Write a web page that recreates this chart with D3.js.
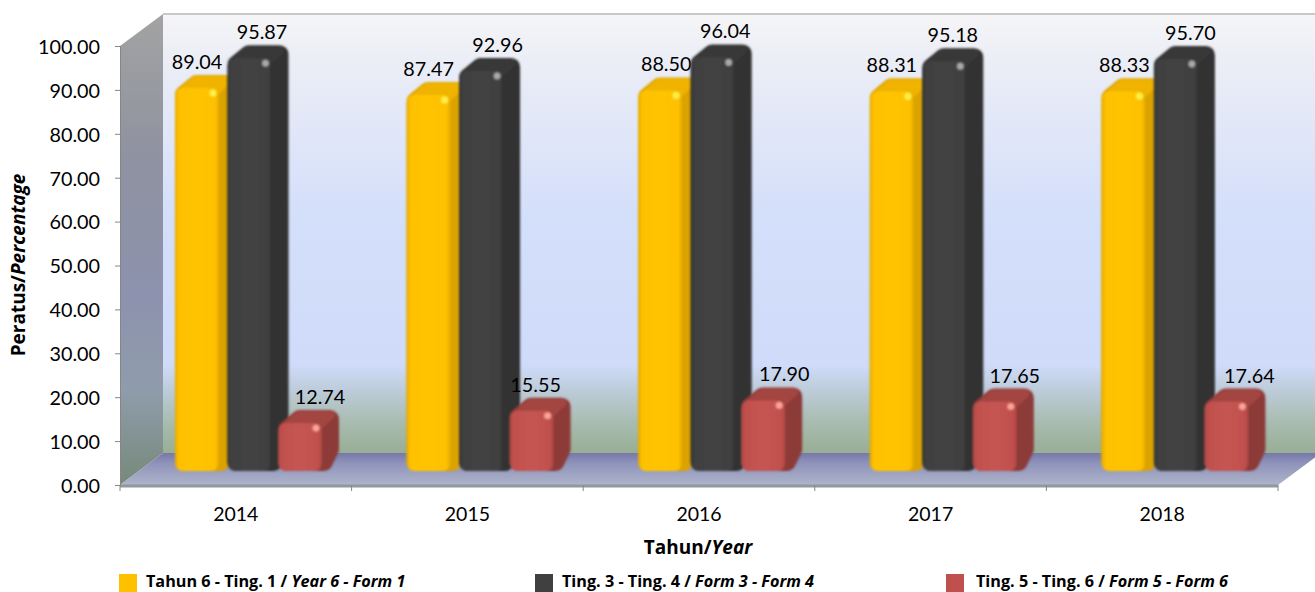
<!DOCTYPE html>
<html>
<head>
  <meta charset="utf-8">
  <title>Peratus</title>
  <script src="https://d3js.org/d3.v7.min.js"></script>
  <style>
    html, body { margin: 0; padding: 0; background: #fff; overflow: hidden; }
    svg { display: block; }
    text { font-family: Lato, "Open Sans", sans-serif; fill: #000; }
    text.bold { font-family: "Open Sans", sans-serif; font-weight: 700; }
  </style>
</head>
<body>
  <script>
    var years = ['2014', '2015', '2016', '2017', '2018'];
    var seriesNames = ['a', 'b', 'c'];
    var year6Form1 = [89.04, 87.47, 88.50, 88.31, 88.33];
    var form3Form4 = [95.87, 92.96, 96.04, 95.18, 95.70];
    var form5Form6 = [12.74, 15.55, 17.90, 17.65, 17.64];
    var yTicks = [0, 10, 20, 30, 40, 50, 60, 70, 80, 90, 100];
    var legendMalay = ['Tahun 6 - Ting. 1 / ', 'Ting. 3 - Ting. 4 / ', 'Ting. 5 - Ting. 6 / '];
    var legendEnglish = ['Year 6 - Form 1', 'Form 3 - Form 4', 'Form 5 - Form 6'];

    var allValues = [year6Form1, form3Form4, form5Form6];

    var width = 1315, height = 592;
    var depthX = 43, depthY = 32;      // wall depth
    var barDepthX = 17, barDepthY = 13;
    var barWidth = 44;
    var colors = [
      { main: '#ffc000', light: '#ffc400', dark: '#e0a900', side: '#dba300', top: '#efb300', spot: '#fff04d' },
      { main: '#404040', light: '#434343', dark: '#333333', side: '#303030', top: '#383838', spot: '#a8a8a8' },
      { main: '#c0504d', light: '#c55552', dark: '#ab4744', side: '#8c3a37', top: '#a34441', spot: '#f8a498' }
    ];
    // the labels were moved by hand in the original
    var labelShift = [
      [-8.5, 4, 11.5],
      [-8.5, 8, -4.5],
      [-2.5, 4, 12.5],
      [-8.5, 0, 11.5],
      [-7.5, 6, 14.5]
    ];

    var x = d3.scaleBand().domain(years).range([120, 1278]);
    var inner = d3.scaleBand().domain(seriesNames).range([55, 209.5]);
    var y = d3.scaleLinear().domain([0, 100]).range([485, 46]);

    var svg = d3.select('body').append('svg')
      .attr('width', width)
      .attr('height', height);

    var defs = svg.append('defs');

    function linear(id, x2, y2, stops) {
      var g = defs.append('linearGradient')
        .attr('id', id)
        .attr('x1', 0).attr('y1', 0)
        .attr('x2', x2).attr('y2', y2);
      stops.forEach(function (s) {
        g.append('stop').attr('offset', s[0]).attr('stop-color', s[1]);
      });
    }

    linear('backWall', 0, 1, [
      [0, '#f5f5f7'], [0.1, '#eceef6'], [0.45, '#d4dffa'], [0.8, '#cfdbf9'],
      [0.86, '#bccbd8'], [0.93, '#a9bcb0'], [1, '#98ae95']
    ]);
    linear('leftWall', 0, 1, [
      [0, '#a3a3a3'], [0.3, '#8f92a0'], [0.6, '#8d92ae'], [0.8, '#8f9cab'], [1, '#77897a']
    ]);
    linear('floor', 0, 1, [
      [0, '#7678a8'], [0.3, '#8e92ba'], [1, '#aeb4ca']
    ]);
    colors.forEach(function (c, i) {
      linear('bar' + i, 1, 0, [
        [0, c.dark], [0.08, c.main], [0.5, c.light], [0.92, c.main], [1, c.dark]
      ]);
    });

    var soft = defs.append('filter').attr('id', 'soft')
      .attr('x', '-20%').attr('y', '-20%').attr('width', '140%').attr('height', '140%');
    soft.append('feGaussianBlur').attr('stdDeviation', 1);
    var spot = defs.append('filter').attr('id', 'spot')
      .attr('x', '-100%').attr('y', '-100%').attr('width', '300%').attr('height', '300%');
    spot.append('feGaussianBlur').attr('stdDeviation', 1.2);

    // walls and floor
    var x0 = x.range()[0], x1 = x.range()[1];
    var floorY = y(0), topY = y(100);

    svg.append('polygon')
      .attr('points', [[x0 + depthX, topY - depthY], [width + 10, topY - depthY], [width + 10, floorY - depthY], [x0 + depthX, floorY - depthY]].join(' '))
      .attr('fill', 'url(#backWall)');
    svg.append('line')
      .attr('x1', x0 + depthX).attr('y1', topY - depthY)
      .attr('x2', width).attr('y2', topY - depthY)
      .attr('stroke', '#c8c8c8').attr('stroke-width', 2);
    svg.append('polygon')
      .attr('points', [[x0, topY], [x0 + depthX, topY - depthY], [x0 + depthX, floorY - depthY], [x0, floorY]].join(' '))
      .attr('fill', 'url(#leftWall)');
    svg.append('polygon')
      .attr('points', [[x0, floorY], [x0 + depthX, floorY - depthY], [x1 + depthX, floorY - depthY], [x1, floorY]].join(' '))
      .attr('fill', 'url(#floor)');
    svg.append('line')
      .attr('x1', x0).attr('y1', floorY + 1)
      .attr('x2', x1).attr('y2', floorY + 1)
      .attr('stroke', '#8f9a9a').attr('stroke-width', 3);

    // axes
    var yAxis = d3.axisLeft(y)
      .tickValues(yTicks)
      .tickSize(5)
      .tickPadding(15)
      .tickFormat(d3.format('.2f'));
    var xAxis = d3.axisBottom(x).tickSize(0).tickPadding(22);

    var yGroup = svg.append('g').attr('transform', 'translate(' + x0 + ',0)').call(yAxis);
    var xGroup = svg.append('g').attr('transform', 'translate(0,' + floorY + ')').call(xAxis);
    yGroup.select('.domain').attr('stroke', '#868686');
    yGroup.selectAll('.tick line').attr('stroke', '#868686');
    xGroup.select('.domain').remove();
    yGroup.selectAll('text').style('font-size', '19.8px').attr('y', 1);
    xGroup.selectAll('text').style('font-size', '19.5px');

    xGroup.selectAll('.edge')
      .data(years.concat(['end']))
      .enter().append('line')
      .attr('class', 'edge')
      .attr('x1', function (d, i) { return x0 + i * x.step(); })
      .attr('x2', function (d, i) { return x0 + i * x.step(); })
      .attr('y1', 0).attr('y2', 6)
      .attr('stroke', '#868686');

    // bars, drawn left to right so each one covers the previous side
    function outline(bx, top, base, inset) {
      return [
        [bx + inset, base - inset],
        [bx + inset, top + inset * 0.7],
        [bx + barDepthX + inset * 0.5, top - barDepthY + inset],
        [bx + barWidth + barDepthX - inset, top - barDepthY + inset],
        [bx + barWidth + barDepthX - inset, base - barDepthY - inset],
        [bx + barWidth + inset * 0.2, base - inset]
      ].join(' ');
    }

    var base = y(0) - 14;

    years.forEach(function (year, yi) {
      var group = svg.append('g').attr('class', 'year')
        .attr('transform', 'translate(' + x(year) + ',0)');

      seriesNames.forEach(function (name, si) {
        var c = colors[si];
        var value = allValues[si][yi];
        var bx = inner(name) + (si === 1 ? 1 : 0);
        var top = y(value) - 6;
        var r = 9;

        var bar = group.append('g').attr('filter', 'url(#soft)');
        // side and top silhouette
        bar.append('polygon')
          .attr('points', outline(bx, top, base, r))
          .attr('fill', c.side)
          .attr('stroke', c.side)
          .attr('stroke-width', r * 2)
          .attr('stroke-linejoin', 'round');
        // top face
        bar.append('polygon')
          .attr('points', [
            [bx + 7, top + 4], [bx + barDepthX + 4, top - barDepthY + 5],
            [bx + barWidth + barDepthX - 8, top - barDepthY + 5], [bx + barWidth - 4, top + 4]
          ].join(' '))
          .attr('fill', c.top)
          .attr('stroke', c.top)
          .attr('stroke-width', 8)
          .attr('stroke-linejoin', 'round');
        // front face
        bar.append('rect')
          .attr('x', bx)
          .attr('y', top)
          .attr('width', barWidth)
          .attr('height', base - top)
          .attr('rx', 8)
          .attr('fill', 'url(#bar' + si + ')');

        group.append('circle')
          .attr('cx', bx + barWidth - 6)
          .attr('cy', top + 5)
          .attr('r', 3.6)
          .attr('fill', c.spot)
          .attr('filter', 'url(#spot)');

        group.append('text')
          .attr('x', bx + barWidth / 2 + barDepthX / 2 + labelShift[yi][si])
          .attr('y', top - barDepthY - 6)
          .attr('text-anchor', 'middle')
          .style('font-size', '19.8px')
          .text(d3.format('.2f')(value));
      });
    });

    // axis titles
    function mixed(sel, plain, italic) {
      sel.append('tspan').text(plain);
      sel.append('tspan').style('font-style', 'italic').text(italic);
    }

    svg.append('text')
      .attr('class', 'bold')
      .attr('transform', 'translate(25,265) rotate(-90)')
      .attr('text-anchor', 'middle')
      .style('font-size', '19px')
      .call(mixed, 'Peratus/', 'Percentage');

    svg.append('text')
      .attr('class', 'bold')
      .attr('x', 698)
      .attr('y', 554)
      .attr('text-anchor', 'middle')
      .style('font-size', '19px')
      .call(mixed, 'Tahun/', 'Year');

    // legend
    var legendX = [119, 535, 946];
    var legendTextX = [146, 562, 976];
    legendMalay.forEach(function (label, i) {
      svg.append('rect')
        .attr('x', legendX[i])
        .attr('y', 574)
        .attr('width', 18)
        .attr('height', 18)
        .attr('fill', colors[i].main);
      svg.append('text')
        .attr('class', 'bold')
        .attr('x', legendTextX[i])
        .attr('y', 587)
        .style('font-size', '16.2px')
        .call(mixed, label, legendEnglish[i]);
    });
  </script>
</body>
</html>
